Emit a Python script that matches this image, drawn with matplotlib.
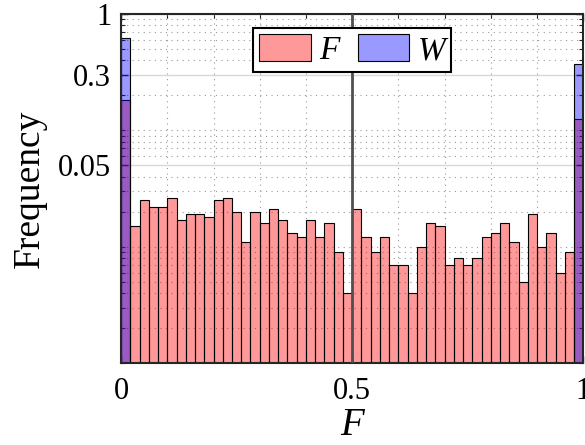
import numpy as np
import matplotlib.pyplot as plt
from matplotlib.ticker import FixedLocator, LogLocator, NullFormatter, MultipleLocator

plt.rcParams['font.family'] = ['Liberation Serif', 'DejaVu Serif']

# relative frequency of F in 50 equal bins on [0, 1]
f_freq = [0.183, 0.015, 0.025, 0.022, 0.022, 0.026, 0.017, 0.019, 0.019, 0.018,
          0.025, 0.026, 0.020, 0.011, 0.020, 0.016, 0.021, 0.017, 0.013, 0.012,
          0.017, 0.012, 0.016, 0.009, 0.004, 0.021, 0.012, 0.009, 0.012, 0.007,
          0.007, 0.004, 0.010, 0.016, 0.015, 0.007, 0.008, 0.007, 0.008, 0.012,
          0.013, 0.016, 0.011, 0.005, 0.019, 0.010, 0.013, 0.006, 0.009, 0.126]
# W is binary
w_values = [0, 1]
w_freq = [0.62, 0.37]

y_ticks = [0.05, 0.3, 1]
y_labels = ['0.05', '0.3', '1']
x_ticks = [0, 0.5, 1]
x_labels = ['0', '0.5', '1']

n_bins = len(f_freq)
edges = np.linspace(0, 1, n_bins + 1)
bw = edges[1] - edges[0]
w_idx = np.minimum((np.array(w_values) / bw).astype(int), n_bins - 1)

fig = plt.figure(figsize=(5.85, 4.45), dpi=100)
ax = fig.add_axes([0.207, 0.184, 0.79, 0.785])

ax.bar(edges[:-1], f_freq, width=bw, align='edge', facecolor=(1, 0, 0, 0.4),
       edgecolor='k', linewidth=0.8, label='F', zorder=2)
ax.bar(edges[w_idx], w_freq, width=bw, align='edge', facecolor=(0, 0, 1, 0.4),
       edgecolor='k', linewidth=0.8, label='W', zorder=2)
ax.axvline(0.5, color='#505050', lw=2, zorder=3)

ax.set_yscale('log')
ax.set_ylim(1e-3, 1)
ax.set_xlim(0, 1)
ax.yaxis.set_major_locator(FixedLocator(y_ticks))
ax.set_yticklabels(y_labels)
ax.yaxis.set_minor_locator(LogLocator(base=10, subs=np.arange(1, 10)))
ax.yaxis.set_minor_formatter(NullFormatter())
ax.set_xticks(x_ticks)
ax.set_xticklabels(x_labels)
ax.xaxis.set_minor_locator(MultipleLocator(0.1))

ax.set_axisbelow(True)
ax.grid(True, which='major', color='#d8d8d8', lw=1, ls='-')
ax.grid(True, which='minor', color='#999999', lw=0.8, ls=(0, (1, 4)))

ax.tick_params(which='both', direction='in', top=True, right=True,
               labelsize=22, color='#262626')
ax.tick_params(axis='y', pad=7)
ax.tick_params(axis='x', pad=10)
ax.tick_params(which='major', length=5, width=1)
ax.tick_params(which='minor', length=3, width=0.8)
for s in ax.spines.values():
    s.set_linewidth(1.5)
    s.set_color('#262626')

ax.set_ylabel('Frequency', fontsize=27, labelpad=8)
ax.set_xlabel('F', fontsize=28, style='italic', labelpad=1)

leg = ax.legend(loc='upper center', bbox_to_anchor=(0.5, 0.96), ncol=2,
                prop={'style': 'italic', 'size': 24}, fancybox=False,
                edgecolor='k', framealpha=1, handlelength=1.55, handleheight=0.9,
                handletextpad=0.25, columnspacing=0.55, borderpad=0.18,
                borderaxespad=0)
leg.get_frame().set_linewidth(1.5)

fig.savefig('out.png', dpi=100)
